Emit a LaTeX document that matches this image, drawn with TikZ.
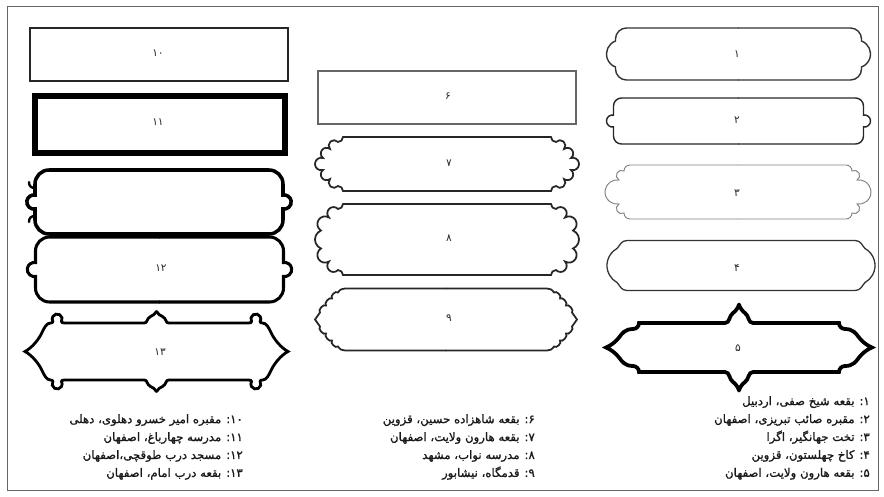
\documentclass[tikz,border=0pt]{standalone}
\usepackage{fontspec}
\newfontfamily\arabicfont[Script=Arabic]{DejaVu Sans}
\newfontfamily\arabicheavy[Script=Arabic, FakeBold=1.2]{DejaVu Sans}
\TeXXeTstate=1
\newcommand\halves[3]{%
  \begin{scope}[shift = {#2}]
    \draw [#1] #3;
    \draw [#1, xscale = -1] #3;
  \end{scope}}
\newcommand\rnum[1]{\beginL#1\endL\kern0pt}

\begin{document}
\begin{tikzpicture}[x = .03cm, y = .03cm, line cap = round,
    tag/.style = {font = \arabicfont\fontsize{9}{11}\selectfont,
                  text = black!85, inner sep = 0pt},
    legend/.style = {font = \arabicheavy\fontsize{10}{15.3}\selectfont,
                     align = right, anchor = north east, inner sep = 0pt,
                     text = black!90}]
  \useasboundingbox (0,0) rectangle (884,-496);
  \draw [black!60, line width = .8pt] (7,-6) rectangle (878,-490);

  % right column
  \halves{black!80, line width = 1.2pt}{(738.5,-54)}
    {(0,26) -- (-112,26) arc [start angle = 90, end angle = 180, radius = 11]
     -- (-123,13) arc [start angle = 110.6, end angle = 249.4, radius = 13.9]
     -- (-123,-15) arc [start angle = 180, end angle = 270, radius = 11] -- (0,-26)}
  \node [tag] (n1) at (737,-54) {۱};

  \halves{black!85, line width = 1.2pt}{(738.5,-121)}
    {(0,23) -- (-117,23) arc [start angle = 90, end angle = 180, radius = 8]
     -- (-125,5.9) arc [start angle = 80, end angle = 280, radius = 6]
     -- (-125,-15) arc [start angle = 180, end angle = 270, radius = 8] -- (0,-23)}
  \node [tag] (n2) at (737,-120) {۲};

  \halves{black!50, line width = .8pt}{(738,-192)}
    {(0,27) -- (-108,27) arc [start angle = 90, end angle = 180, radius = 6]
     arc [start angle = 60.9, end angle = 240.9, radius = 5.15]
     arc [start angle = 81.2, end angle = 278.8, radius = 12.14]
     arc [start angle = 119.1, end angle = 299.1, radius = 5.15]
     arc [start angle = 180, end angle = 270, radius = 6] -- (0,-27)}
  \node [tag] (n3) at (737,-193) {۳};

  \halves{black!80, line width = 1.1pt}{(741,-265.5)}
    {(0,25) -- (-114,25) .. controls (-120,25) and (-121,20) .. (-124,17)
     arc [start angle = 119, end angle = 241, radius = 19.45]
     .. controls (-121,-20) and (-120,-25) .. (-114,-25) -- (0,-25)}
  \node [tag] (n4) at (737,-268) {۴};

  \halves{black, line width = 3.2pt}{(739,-347.5)}
    {(0,43) .. controls (-1,39) and (-4,36) .. (-6,34.5)
     .. controls (-10,32) and (-9,24.5) .. (-14,24.5)
     -- (-100,24.5) arc [start angle = 0, end angle = -90, radius = 6]
     .. controls (-114,18.5) and (-117,14) .. (-120,10)
     .. controls (-123,6) and (-128,2) .. (-133,0)
     .. controls (-128,-2) and (-123,-6) .. (-120,-10)
     .. controls (-117,-14) and (-114,-18.5) .. (-106,-18.5)
     arc [start angle = 90, end angle = 0, radius = 6] -- (-14,-24.5)
     .. controls (-9,-24.5) and (-10,-32) .. (-6,-34.5)
     .. controls (-4,-36) and (-1,-39) .. (0,-43)}
  \node [tag] (n5) at (738,-348) {۵};

  % middle column
  \draw [black!60, line width = .9pt] (318,-71) rectangle (576,-124);
  \node [tag] (n6) at (448,-96) {۶};

  \halves{black!85, line width = 1.5pt}{(447,-164)}
    {(0,27) -- (-104,27) arc [start angle = 0, end angle = -90, radius = 5]
     arc [start angle = 41.2, end angle = 221.2, radius = 5.32]
     arc [start angle = 52.1, end angle = 232.1, radius = 5.70]
     arc [start angle = 73.7, end angle = 286.3, radius = 6.25]
     arc [start angle = 127.9, end angle = 307.9, radius = 5.70]
     arc [start angle = 138.8, end angle = 318.8, radius = 5.32]
     arc [start angle = 90, end angle = 0, radius = 5] -- (0,-27)}
  \node [tag] (n7) at (449,-163) {۷};

  \halves{black!85, line width = 1.5pt}{(447,-239.5)}
    {(0,35.5) -- (-104,35.5) arc [start angle = 0, end angle = -90, radius = 5]
     arc [start angle = 43.4, end angle = 223.4, radius = 6.2]
     arc [start angle = 58.4, end angle = 238.4, radius = 7.63]
     arc [start angle = 112.6, end angle = 247.4, radius = 9.75]
     arc [start angle = 121.6, end angle = 301.6, radius = 7.63]
     arc [start angle = 136.6, end angle = 316.6, radius = 6.2]
     arc [start angle = 90, end angle = 0, radius = 5] -- (0,-35.5)}
  \node [tag] (n8) at (449,-238) {۸};

  \halves{black!85, line width = 1.5pt}{(446,-319.5)}
    {(0,31) -- (-101,31) .. controls (-104,31) and (-106,30) .. (-108,27)
     .. controls (-110.35,29.35) and (-116.35,23.35) .. (-114,21)
     .. controls (-116.53,23.17) and (-122.53,16.17) .. (-120,14)
     .. controls (-122.53,16.17) and (-128.53,9.17) .. (-126,7)
     -- (-131,0) -- (-126,-7)
     .. controls (-128.53,-9.17) and (-122.53,-16.17) .. (-120,-14)
     .. controls (-122.53,-16.17) and (-116.53,-23.17) .. (-114,-21)
     .. controls (-116.35,-23.35) and (-110.35,-29.35) .. (-108,-27)
     .. controls (-106,-30) and (-104,-31) .. (-101,-31) -- (0,-31)}
  \node [tag] (n9) at (449,-318) {۹};

  % left column
  \draw [black!85, line width = 1.5pt] (30,-28) rectangle (288,-81);
  \node [tag] (n10) at (158,-53) {۱۰};

  \draw [black, line width = 5pt] (35,-96) rectangle (285,-153);
  \node [tag] (n11) at (158,-122) {۱۱};

  \halves{black, line width = 3pt}{(159,-202)}
    {(0,32) -- (-110,32) arc [start angle = 90, end angle = 180, radius = 14]
     -- (-124,6.9) arc [start angle = 80, end angle = 280, radius = 7]
     -- (-124,-18) arc [start angle = 180, end angle = 270, radius = 14] -- (0,-32)}
  \draw [black, line width = 2pt] (35,-188) .. controls (31,-188) and (29,-186) .. (29,-182)
    (35,-216) .. controls (31,-216) and (29,-218) .. (29,-222);

  \halves{black, line width = 2.6pt}{(159.5,-269.5)}
    {(0,32.5) -- (-110,32.5) arc [start angle = 90, end angle = 180, radius = 14]
     -- (-124,6.9) arc [start angle = 80, end angle = 280, radius = 7]
     -- (-124,-18.5) arc [start angle = 180, end angle = 270, radius = 14] -- (0,-32.5)}
  \node [tag] (n12) at (161,-268) {۱۲};

  \halves{black, line width = 2.4pt}{(156.5,-351.5)}
    {(0,40) .. controls (-1.5,37) and (-4,36) .. (-6,35)
     .. controls (-10,33) and (-9,28.5) .. (-12,28.5)
     -- (-92,28.5) .. controls (-94,28.5) and (-95,29) .. (-95,30)
     arc [start angle = -30, end angle = 210, radius = 5]
     .. controls (-103.66,29) and (-104.5,28.5) .. (-106,28.5)
     .. controls (-110,28.5) and (-112,24) .. (-114,20)
     .. controls (-117,13) and (-124,4) .. (-131.5,0)
     .. controls (-124,-4) and (-117,-13) .. (-114,-20)
     .. controls (-112,-24) and (-110,-28.5) .. (-106,-28.5)
     .. controls (-104.5,-28.5) and (-103.66,-29) .. (-103.66,-30)
     arc [start angle = 150, end angle = 390, radius = 5]
     .. controls (-95,-29) and (-94,-28.5) .. (-92,-28.5) -- (-12,-28.5)
     .. controls (-9,-28.5) and (-10,-33) .. (-6,-35)
     .. controls (-4,-36) and (-1.5,-37) .. (0,-40)}
  \node [tag] (n13) at (160,-352) {۱۳};

  % captions
  \node [legend] (list1) at (870,-396) {%
    \beginR\rnum{۱}: بقعه شیخ صفی، اردبیل\endR\\
    \beginR\rnum{۲}: مقبره صائب تبریزی، اصفهان\endR\\
    \beginR\rnum{۳}: تخت جهانگیر، اگرا\endR\\
    \beginR\rnum{۴}: کاخ چهلستون، قزوین\endR\\
    \beginR\rnum{۵}: بقعه هارون ولایت، اصفهان\endR};
  \node [legend] (list2) at (535,-414) {%
    \beginR\rnum{۶}: بقعه شاهزاده حسین، قزوین\endR\\
    \beginR\rnum{۷}: بقعه هارون ولایت، اصفهان\endR\\
    \beginR\rnum{۸}: مدرسه نواب، مشهد\endR\\
    \beginR\rnum{۹}: قدمگاه، نیشابور\endR};
  \node [legend] (list3) at (243,-414) {%
    \beginR\rnum{۱۰}: مقبره امیر خسرو دهلوی، دهلی\endR\\
    \beginR\rnum{۱۱}: مدرسه چهارباغ، اصفهان\endR\\
    \beginR\rnum{۱۲}: مسجد درب طوقچی،اصفهان\endR\\
    \beginR\rnum{۱۳}: بقعه درب امام، اصفهان\endR};
\end{tikzpicture}
\end{document}
